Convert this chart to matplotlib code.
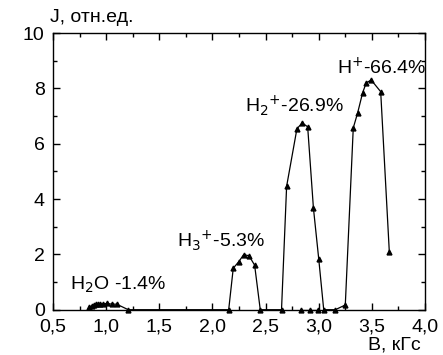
import matplotlib

matplotlib.use("Agg")
import matplotlib.pyplot as plt
from matplotlib.ticker import MultipleLocator, FuncFormatter

plt.rcParams["font.family"] = ["Liberation Sans", "DejaVu Sans"]

# ion current vs magnetic field, one polyline through all groups
B_kgs = [0.842, 0.864, 0.883, 0.902, 0.920, 0.942, 0.968, 1.005, 1.052, 1.099, 1.208,
         2.153, 2.196, 2.247, 2.294, 2.344, 2.397, 2.450,
         2.650, 2.698, 2.795, 2.845, 2.896, 2.950, 3.000, 3.047,
         3.156, 3.250, 3.325, 3.366, 3.413, 3.447, 3.494, 3.583, 3.664]
J_rel = [0.11, 0.13, 0.17, 0.20, 0.21, 0.21, 0.20, 0.23, 0.20, 0.20, 0.00,
         0.00, 1.50, 1.73, 1.99, 1.95, 1.61, 0.00,
         0.00, 4.46, 6.54, 6.75, 6.61, 3.68, 1.84, 0.00,
         0.00, 0.17, 6.57, 7.11, 7.84, 8.20, 8.30, 7.88, 2.10]

# extra background points lying on the baseline
B_zero = [2.835, 2.915, 2.996]
J_zero = [0.0, 0.0, 0.0]

peak_labels = ["H$_2$O -1.4%", "H$_3$$^{+}$-5.3%", "H$_2$$^{+}$-26.9%", "H$^{+}$-66.4%"]
label_B = [0.66, 1.67, 2.31, 3.17]
label_J = [0.71, 2.27, 7.13, 8.50]

fig = plt.figure(figsize=(4.43, 3.55), dpi=100)
ax = fig.add_axes([0.1196, 0.1276, 0.8398, 0.7794])

ax.plot(B_kgs, J_rel, color="black", linewidth=0.9, marker="^", markersize=3.5,
        clip_on=False, zorder=3)
ax.plot(B_zero, J_zero, color="black", linewidth=0.9, marker="^", markersize=3.5,
        clip_on=False, zorder=3)

for text, bx, jy in zip(peak_labels, label_B, label_J):
    ax.text(bx, jy, text, fontsize=14, ha="left", va="baseline")

ax.set_xlim(0.5, 4.0)
ax.set_ylim(0, 10)
ax.xaxis.set_major_locator(MultipleLocator(0.5))
ax.xaxis.set_minor_locator(MultipleLocator(0.25))
ax.yaxis.set_major_locator(MultipleLocator(2))
ax.yaxis.set_minor_locator(MultipleLocator(1))
ax.xaxis.set_major_formatter(FuncFormatter(lambda v, p: f"{v:.1f}".replace(".", ",")))
ax.tick_params(which="both", direction="in", top=True, right=True, labelsize=14,
               width=1.0)
ax.tick_params(which="major", length=5)
ax.tick_params(which="minor", length=3)
ax.tick_params(axis="x", which="major", pad=6)
ax.tick_params(axis="y", which="major", pad=6)
for s in ax.spines.values():
    s.set_linewidth(1.0)

fig.text(0.113, 0.938, "J, отн.ед.", fontsize=14, ha="left", va="baseline")
fig.text(0.95, 0.016, "B, кГс", fontsize=14, ha="right", va="baseline")

fig.savefig("out.png", dpi=100)
